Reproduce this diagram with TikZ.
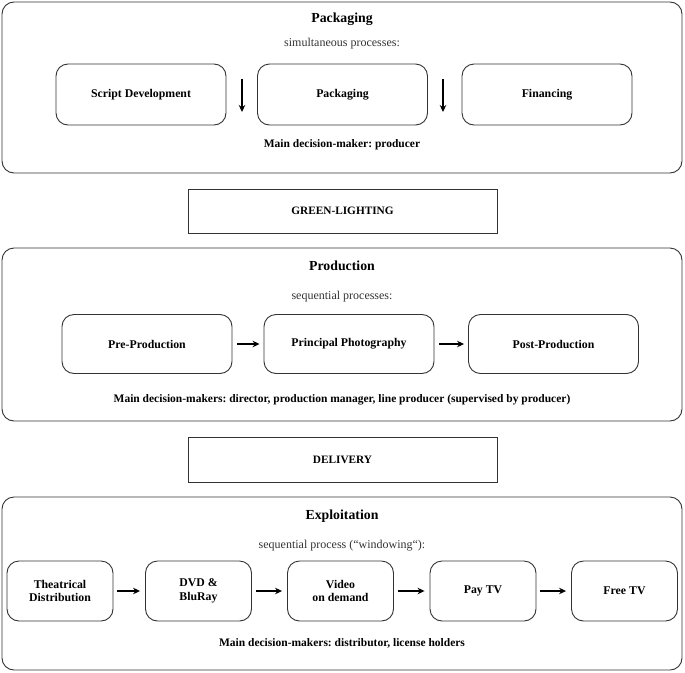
\documentclass[tikz,border=0pt]{standalone}
\usepackage{fontspec}
\setmainfont{Liberation Serif}
\frenchspacing
\usetikzlibrary{arrows.meta}
\tikzset{
  outerbox/.style={draw=black!80, line width=0.9pt, rounded corners=12pt, minimum width=680pt, inner sep=0pt},
  procbox/.style={draw=black!80, line width=0.9pt, rounded corners=12pt, inner sep=0pt, font=\fontsize{11.8}{13.5}\selectfont\bfseries, align=center},
  gatebox/.style={draw=black!80, line width=0.9pt, minimum width=309pt, minimum height=44pt, font=\fontsize{11.3}{13}\selectfont\bfseries},
  titletext/.style={font=\fontsize{13.8}{16}\selectfont\bfseries},
  subtext/.style={font=\fontsize{12}{14}\selectfont, text=black!80},
  maintext/.style={font=\fontsize{11.5}{13}\selectfont\bfseries},
  flow/.style={-{Stealth[length=7pt,width=6.5pt]}, line width=1.7pt}
}
\begin{document}
\begin{tikzpicture}[x=1pt,y=-1pt]
\useasboundingbox (0,0) rectangle (685,672);
% Packaging
\node[outerbox, minimum height=171pt] (pk) at (342,87.5) {};
\node[titletext] (pkt) at (342,19) {Packaging};
\node[subtext] (pks) at (342,44) {simultaneous processes:};
\node[procbox, minimum width=170pt, minimum height=61pt] (sd) at (141,94.5) {Script Development};
\node[procbox, minimum width=170pt, minimum height=61pt] (pg) at (342.5,94.5) {Packaging};
\node[procbox, minimum width=170pt, minimum height=61pt] (fi) at (547,94.5) {Financing};
\coordinate (a1s) at (242,79); \coordinate (a1e) at (242,112);
\coordinate (a2s) at (443,79); \coordinate (a2e) at (443,112);
\draw[flow] (a1s) -- (a1e);
\draw[flow] (a2s) -- (a2e);
\node[maintext] (pkm) at (342,145) {Main decision-maker: producer};
% Green-lighting
\node[gatebox] (gl) at (342.5,211) {GREEN-LIGHTING};
% Production
\node[outerbox, minimum height=173pt] (pr) at (342,334.5) {};
\node[titletext] (prt) at (342,266) {Production};
\node[subtext] (prs) at (342,297) {sequential processes:};
\node[procbox, minimum width=170pt, minimum height=59pt] (pre) at (147,344) {Pre-Production};
\node[procbox, minimum width=170pt, minimum height=59pt] (pp) at (349,344) {Principal Photography};
\node[procbox, minimum width=170pt, minimum height=59pt] (post) at (553.5,344) {Post-Production};
\draw[flow, shorten <=5pt, shorten >=4pt] (pre) -- (pp);
\draw[flow, shorten <=5pt, shorten >=4pt] (pp) -- (post);
\node[maintext] (prm) at (342,400) {Main decision-makers: director, production manager, line producer (supervised by producer)};
% Delivery
\node[gatebox, minimum height=45pt] (dl) at (342.5,459.5) {DELIVERY};
% Exploitation
\node[outerbox, minimum height=173pt] (ex) at (342,583.5) {};
\node[titletext] (ext) at (342,516) {Exploitation};
\node[subtext] (exs) at (342,546) {sequential process (“windowing“):};
\node[procbox, minimum width=106pt, minimum height=60pt] (th) at (60,591) {Theatrical\\Distribution};
\node[procbox, minimum width=106pt, minimum height=60pt] (dvd) at (198.5,591) {DVD \&\\BluRay};
\node[procbox, minimum width=106pt, minimum height=60pt] (vod) at (340.5,591) {Video\\on demand};
\node[procbox, minimum width=106pt, minimum height=60pt] (pay) at (483,591) {Pay TV};
\node[procbox, minimum width=106pt, minimum height=60pt] (free) at (624.5,591) {Free TV};
\draw[flow, shorten <=4pt, shorten >=5pt] (th) -- (dvd);
\draw[flow, shorten <=4pt, shorten >=5pt] (dvd) -- (vod);
\draw[flow, shorten <=4pt, shorten >=5pt] (vod) -- (pay);
\draw[flow, shorten <=4pt, shorten >=5pt] (pay) -- (free);
\node[maintext] (exm) at (342,643) {Main decision-makers: distributor, license holders};
\end{tikzpicture}
\end{document}
